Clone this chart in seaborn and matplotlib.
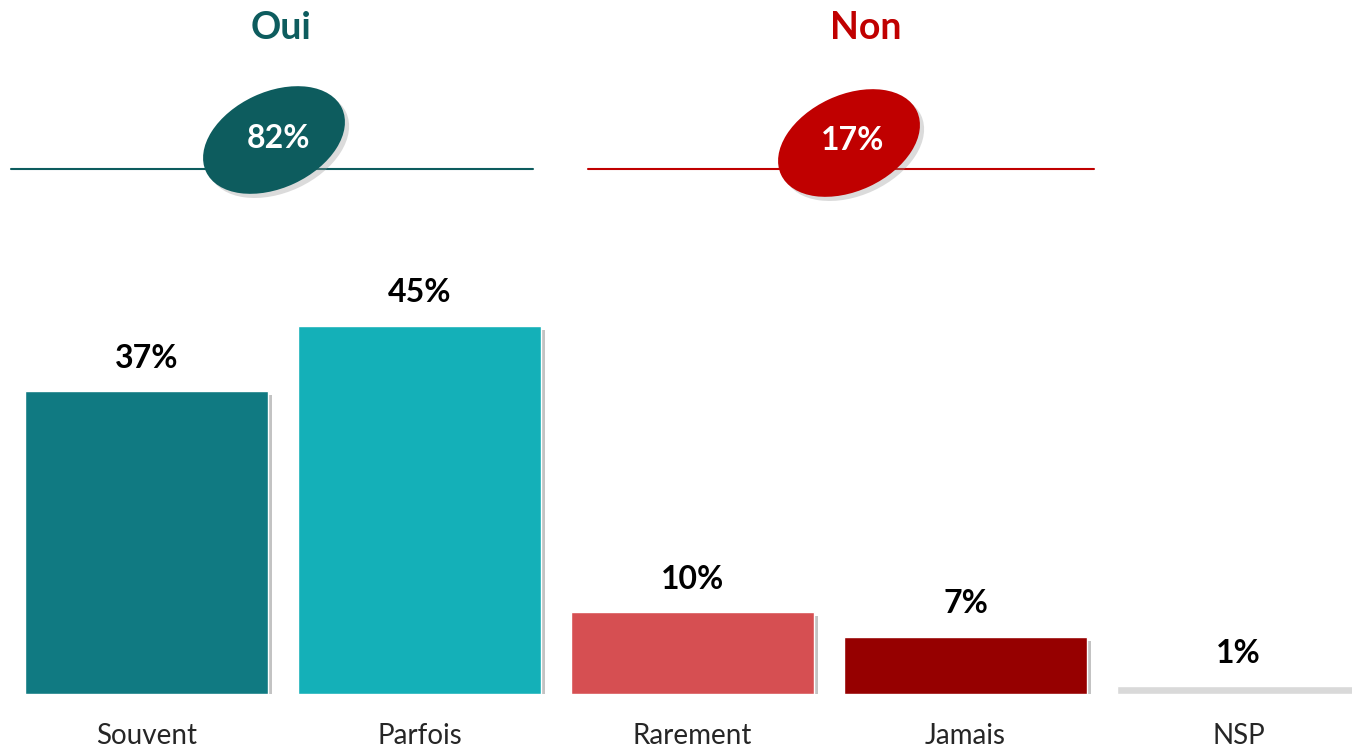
import matplotlib.pyplot as plt
import matplotlib.patheffects as pe
from matplotlib.patches import Ellipse
import seaborn as sns

categories = ["Souvent", "Parfois", "Rarement", "Jamais", "NSP"]
values = [37, 45, 10, 7, 1]
bar_colors = ["#107a82", "#14b0b8", "#d64f52", "#960000", "#d9d9d9"]

groups = ["Oui", "Non"]
group_totals = [82, 17]
group_colors = ["#0d5c5e", "#c00000"]

sns.set_style("white")
plt.rcParams['font.family'] = ['Lato', 'DejaVu Sans']

W, H = 1352, 751
fig = plt.figure(figsize=(W / 100, H / 100), dpi=100)

# main bar axes: baseline at y=694px
ax = fig.add_axes([0, (H - 694) / H, 1, 694 / H])
sns.barplot(x=categories, y=values, hue=categories, palette=bar_colors,
            legend=False, width=0.89, saturation=1, ax=ax)
ax.set_xlim(-0.537, 4.416)
ax.set_ylim(0, 84.8)
for s in ax.spines.values():
    s.set_visible(False)
ax.set_yticks([])
ax.set_xlabel("")
ax.set_ylabel("")
ax.tick_params(axis='x', length=0, pad=21, labelsize=20)
ax.patch.set_visible(False)

shadow = [pe.SimplePatchShadow(offset=(3, -3), shadow_rgbFace='#888888', alpha=0.5), pe.Normal()]
for p in ax.patches:
    p.set_path_effects(shadow)

for i, v in enumerate(values):
    ax.text(i, v + 4.0, f"{v}%", ha='center', va='center',
            fontsize=23, fontweight='bold', color='black')

# header overlay in pixel units
ov = fig.add_axes([0, 0, 1, 1])
ov.set_xlim(0, W)
ov.set_ylim(H, 0)
ov.axis('off')
ov.patch.set_visible(False)

line_spans = [(11, 533), (588, 1094)]
title_x = [281, 866]
ell_centers = [(274, 140), (849, 143)]

for g, tot, col, (x0, x1), tx, (ex, ey) in zip(groups, group_totals, group_colors,
                                             line_spans, title_x, ell_centers):
    ov.plot([x0, x1], [169, 169], color=col, lw=1.5, zorder=1)
    ov.text(tx, 28, g, ha='center', va='center', fontsize=27,
            fontweight='bold', color=col)
    e = Ellipse((ex, ey), 150, 96, angle=-25, facecolor=col, edgecolor='none', zorder=2)
    e.set_path_effects([pe.SimplePatchShadow(offset=(3, -3), shadow_rgbFace='#999999', alpha=0.35),
                        pe.Normal()])
    ov.add_patch(e)
    ov.text(ex + 4, ey - 2, f"{tot}%", ha='center', va='center', fontsize=23,
            fontweight='bold', color='white', zorder=3)

fig.savefig("out.png", dpi=100)
